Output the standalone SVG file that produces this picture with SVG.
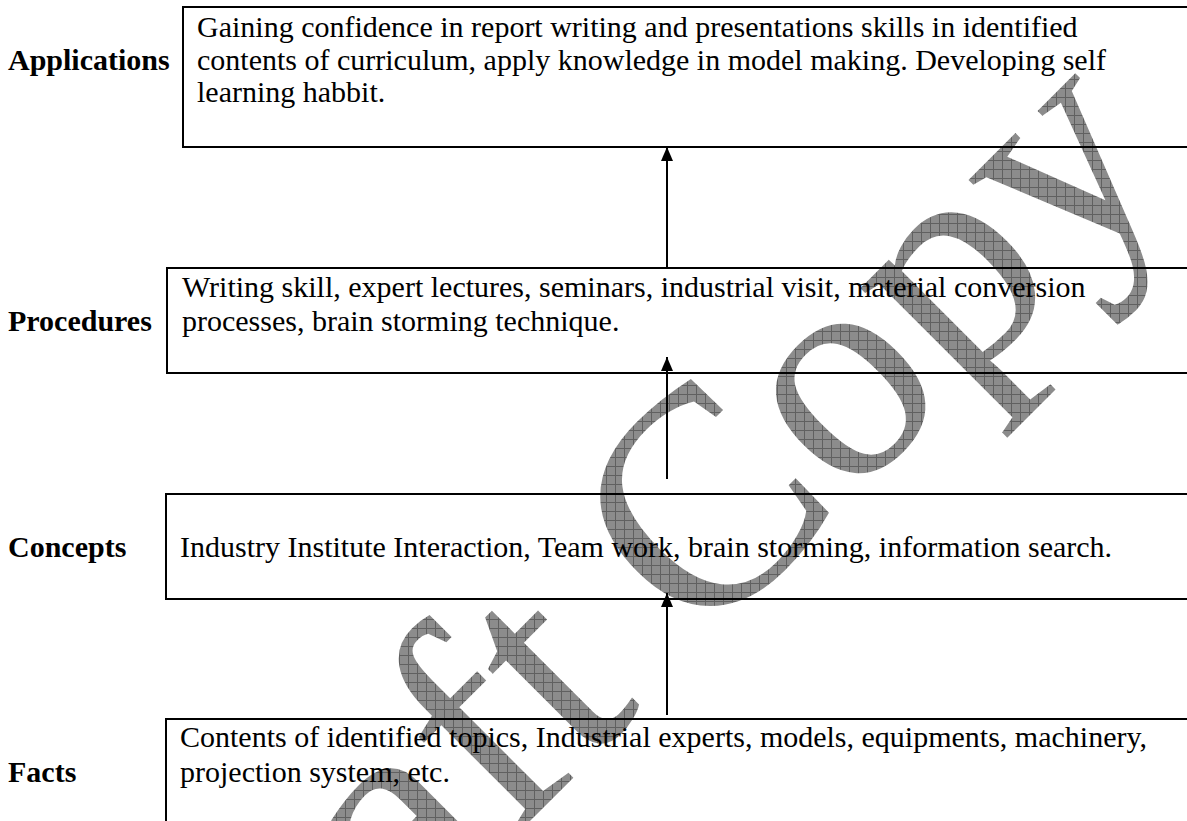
<svg xmlns="http://www.w3.org/2000/svg" width="1187" height="821" viewBox="0 0 1187 821">
<defs>
<style>
.box{fill:none;stroke:#000;stroke-width:2}
.lbl{font-family:"Liberation Serif","Times New Roman",serif;font-weight:bold;font-size:30px;fill:#000}
.txt{font-family:"Liberation Serif","Times New Roman",serif;font-size:30px;fill:#000}
.conn{stroke:#000;stroke-width:2;fill:none}
.wm{font-family:"Liberation Serif","Times New Roman",serif;font-size:312px;fill:url(#grid)}
</style>
<pattern id="grid" width="9" height="9" patternUnits="userSpaceOnUse" patternTransform="rotate(45)">
<rect width="9" height="9" fill="#8c8c8c"/>
<path d="M0 0.5H9M0.5 0V9" stroke="#606060" stroke-width="1"/>
</pattern>
<marker id="ah" viewBox="0 0 14 12" refX="14" refY="6" markerWidth="14" markerHeight="12" markerUnits="userSpaceOnUse" orient="auto">
<path d="M0 0L14 6L0 12Z" fill="#000"/>
</marker>
</defs>
<rect width="1187" height="821" fill="#fff"/>
<text class="wm" text-anchor="middle" transform="translate(678 673) rotate(-45)">Draft Copy</text>
<g id="applications">
<rect class="box" x="183" y="7" width="1020" height="140"/>
<text class="lbl" x="8" y="70">Applications</text>
<text class="txt" x="197" y="37">Gaining confidence in report writing and presentations skills in identified</text>
<text class="txt" x="197" y="70">contents of curriculum, apply knowledge in model making. Developing self</text>
<text class="txt" x="197" y="102">learning habbit.</text>
</g>
<g id="procedures">
<rect class="box" x="167" y="268" width="1040" height="105"/>
<text class="lbl" x="8" y="331">Procedures</text>
<text class="txt" x="182" y="297">Writing skill, expert lectures, seminars, industrial visit, material conversion</text>
<text class="txt" x="182" y="331">processes, brain storming technique.</text>
</g>
<g id="concepts">
<rect class="box" x="166" y="494" width="1040" height="105"/>
<text class="lbl" x="8" y="557">Concepts</text>
<text class="txt" x="180" y="557">Industry Institute Interaction, Team work, brain storming, information search.</text>
</g>
<g id="facts">
<rect class="box" x="166" y="719" width="1040" height="120"/>
<text class="lbl" x="8" y="782">Facts</text>
<text class="txt" x="180" y="747">Contents of identified topics, Industrial experts, models, equipments, machinery,</text>
<text class="txt" x="180" y="782">projection system, etc.</text>
</g>
<g id="connectors">
<line class="conn" x1="667" y1="268" x2="667" y2="147" marker-end="url(#ah)"/>
<line class="conn" x1="667" y1="479" x2="667" y2="357" marker-end="url(#ah)"/>
<line class="conn" x1="667" y1="715" x2="667" y2="593" marker-end="url(#ah)"/>
</g>
</svg>
